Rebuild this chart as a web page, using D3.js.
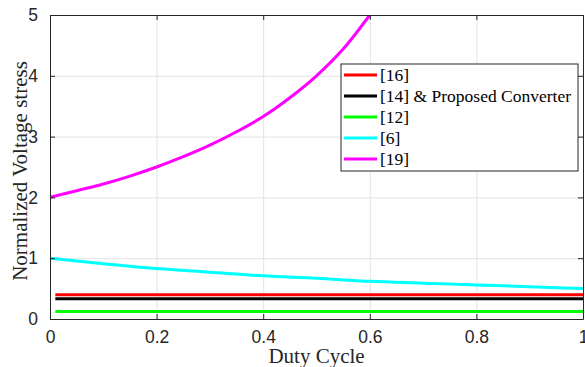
<!DOCTYPE html>
<html lang="en">
<head>
<meta charset="UTF-8">
<title>Normalized voltage stress</title>
<style>
  body { margin: 0; background: #fff; }
  svg { display: block; font-family: "Liberation Serif", "Times New Roman", serif; }
  .tick text { font-size: 17.5px; fill: #262626; }
  .grid line { stroke: #e3e3e3; stroke-width: 1; }
  .grid .domain { display: none; }
</style>
<script src="https://d3js.org/d3.v7.min.js"></script>
</head>
<body>
<script>
// duty cycle ticks and y ticks
var xTicks = [0, 0.2, 0.4, 0.6, 0.8, 1];
var yTicks = [0, 1, 2, 3, 4, 5];

// flat curves, sampled at both ends
var flatD = [0.01, 1];
var ref16 = [0.4, 0.4];
var ref14 = [0.333, 0.333];
var ref12 = [0.125, 0.125];

// [6]
var cyanD = [0, 0.1, 0.2, 0.3, 0.4, 0.5, 0.6, 0.7, 0.8, 0.9, 1];
var ref6 = [1, 0.91, 0.83, 0.77, 0.71, 0.67, 0.62, 0.59, 0.56, 0.53, 0.5];

// [19]
var magD = [0, 0.05, 0.1, 0.15, 0.2, 0.25, 0.3, 0.35, 0.4, 0.45, 0.5, 0.55, 0.6];
var ref19 = [2, 2.11, 2.22, 2.35, 2.5, 2.67, 2.86, 3.08, 3.33, 3.64, 4, 4.44, 5];

var series = [
  { name: "[16]", color: "#ff0000", x: flatD, y: ref16 },
  { name: "[14] & Proposed Converter", color: "#000000", x: flatD, y: ref14 },
  { name: "[12]", color: "#00ff00", x: flatD, y: ref12 },
  { name: "[6]", color: "#00ffff", x: cyanD, y: ref6 },
  { name: "[19]", color: "#ff00ff", x: magD, y: ref19 }
];

var W = 585, H = 367;
var margin = { top: 15, right: 2, bottom: 48, left: 50 };
var width = W - margin.left - margin.right;
var height = H - margin.top - margin.bottom;

var svg = d3.select("body").append("svg")
  .attr("width", W).attr("height", H);
var g = svg.append("g")
  .attr("transform", "translate(" + margin.left + "," + margin.top + ")");

var x = d3.scaleLinear().domain([0, 1]).range([0, width]);
var y = d3.scaleLinear().domain([0, 5]).range([height, 0]);

// grid
g.append("g").attr("class", "grid")
  .attr("transform", "translate(0," + height + ")")
  .call(d3.axisBottom(x).tickValues(xTicks).tickSize(-height).tickFormat(""));
g.append("g").attr("class", "grid")
  .call(d3.axisLeft(y).tickValues(yTicks).tickSize(-width).tickFormat(""));

// lines
g.append("clipPath").attr("id", "plotclip")
  .append("rect").attr("width", width).attr("height", height);

var line = d3.line()
  .x(function(d) { return x(d[0]); })
  .y(function(d) { return y(d[1]); })
  .curve(d3.curveMonotoneX);

series.forEach(function(s) {
  var pts = s.x.map(function(v, i) { return [v, s.y[i]]; });
  g.append("path")
    .datum(pts)
    .attr("clip-path", "url(#plotclip)")
    .attr("fill", "none")
    .attr("stroke", s.color)
    .attr("stroke-width", 3)
    .attr("d", line);
});

// axes (inward ticks, full box)
function styleAxis(sel) {
  sel.select(".domain").attr("stroke", "#262626");
  sel.selectAll(".tick line").attr("stroke", "#262626");
}
g.append("g")
  .attr("transform", "translate(0," + height + ")")
  .call(d3.axisBottom(x).tickValues(xTicks).tickSizeInner(-5).tickSizeOuter(0).tickPadding(12)
    .tickFormat(function(d) { return d === 0 || d === 1 ? d : d3.format(".1f")(d); }))
  .call(styleAxis);
g.append("g")
  .call(d3.axisLeft(y).tickValues(yTicks).tickSizeInner(-5).tickSizeOuter(0).tickPadding(12)
    .tickFormat(d3.format("d")))
  .call(styleAxis);
g.append("g")
  .call(d3.axisTop(x).tickValues(xTicks).tickSizeInner(-5).tickSizeOuter(0).tickFormat(""))
  .call(styleAxis);
g.append("g")
  .attr("transform", "translate(" + width + ",0)")
  .call(d3.axisRight(y).tickValues(yTicks).tickSizeInner(-5).tickSizeOuter(0).tickFormat(""))
  .call(styleAxis);

// axis labels
svg.append("text")
  .attr("x", margin.left + width / 2)
  .attr("y", 363)
  .attr("text-anchor", "middle")
  .style("font-size", "21px")
  .style("fill", "#262626")
  .text("Duty Cycle");

svg.append("text")
  .attr("transform", "translate(27,171) rotate(-90)")
  .attr("text-anchor", "middle")
  .style("font-size", "21px")
  .style("fill", "#262626")
  .text("Normalized Voltage stress");

// legend
var lg = svg.append("g").attr("transform", "translate(341,64)");
lg.append("rect")
  .attr("width", 237).attr("height", 107)
  .attr("fill", "#fff").attr("stroke", "#262626").attr("stroke-width", 1);
series.forEach(function(s, i) {
  var yy = 11 + i * 21;
  lg.append("line")
    .attr("x1", 3).attr("x2", 36).attr("y1", yy).attr("y2", yy)
    .attr("stroke", s.color).attr("stroke-width", 3);
  lg.append("text")
    .attr("x", 39).attr("y", yy + 6)
    .style("font-size", "17.5px")
    .style("fill", "#000")
    .text(s.name);
});
</script>
</body>
</html>
